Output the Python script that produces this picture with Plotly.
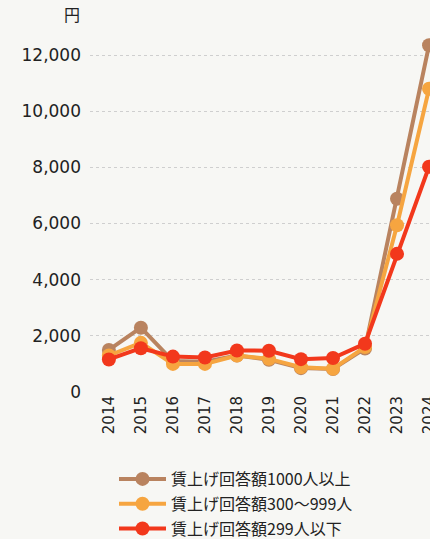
import plotly.graph_objects as go

years = [2014, 2015, 2016, 2017, 2018, 2019, 2020, 2021, 2022, 2023, 2024]
large = [1500, 2290, 1100, 1080, 1300, 1150, 850, 820, 1550, 6880, 12350]
medium = [1300, 1750, 1000, 1000, 1300, 1180, 880, 830, 1600, 5940, 10800]
small = [1160, 1560, 1260, 1230, 1480, 1470, 1170, 1210, 1720, 4920, 8020]
names = ["賃上げ回答額1000人以上", "賃上げ回答額300～999人", "賃上げ回答額299人以下"]
colors = ["#B9835F", "#F6A540", "#F2381C"]
ytick_vals = [0, 2000, 4000, 6000, 8000, 10000, 12000]
ytick_text = ["0", "2,000", "4,000", "6,000", "8,000", "10,000", "12,000"]

JP = "Noto Sans CJK JP, Noto Sans, sans-serif"
NUM = "DejaVu Sans, sans-serif"

fig = go.Figure()
for i, (vals, name, col) in enumerate(zip([large, medium, small], names, colors)):
    fig.add_trace(go.Scatter(
        x=years, y=vals, name=name, mode="lines+markers",
        line=dict(color=col, width=4),
        marker=dict(color=col, size=14),
        cliponaxis=False, legendgroup="g%d" % i,
    ))

fig.update_layout(
    width=430, height=539,
    margin=dict(l=90, r=0, t=30, b=147, autoexpand=False),
    paper_bgcolor="#f7f7f4", plot_bgcolor="#f7f7f4",
    font=dict(family=JP, size=16, color="#222222"),
    showlegend=True,
    legend=dict(
        x=(114 - 90) / 340, y=(392 - 462) / 362, xanchor="left", yanchor="top",
        bgcolor="rgba(0,0,0,0)", font=dict(family=JP, size=16, color="#222222"),
        tracegroupgap=1, itemwidth=47,
    ),
    xaxis=dict(
        range=[2013.41, 2024.03], tickmode="array", tickvals=years,
        ticktext=[str(y) for y in years], tickangle=-90, automargin=False,
        ticklabeloverflow="allow",
        showgrid=False, zeroline=False, showline=False,
        tickfont=dict(family=NUM, size=15, color="#222222"),
    ),
    yaxis=dict(
        range=[0, 12892], tickmode="array", tickvals=ytick_vals,
        ticktext=ytick_text, showgrid=True, gridcolor="#cfcfcf", automargin=False,
        griddash="dot", gridwidth=1, zeroline=False, showline=False,
        ticklabelstandoff=8, tickfont=dict(family=NUM, size=17, color="#222222"),
    ),
    annotations=[dict(
        text="円", xref="paper", yref="paper", x=-8 / 340, y=(392 - 28) / 362,
        xanchor="right", yanchor="bottom", showarrow=False,
        font=dict(family=JP, size=16, color="#222222"),
    )],
)

fig.write_html(
    "out.html",
    config={"displayModeBar": False},
    post_script="document.body.style.margin='0';document.body.style.overflow='hidden';",
)
